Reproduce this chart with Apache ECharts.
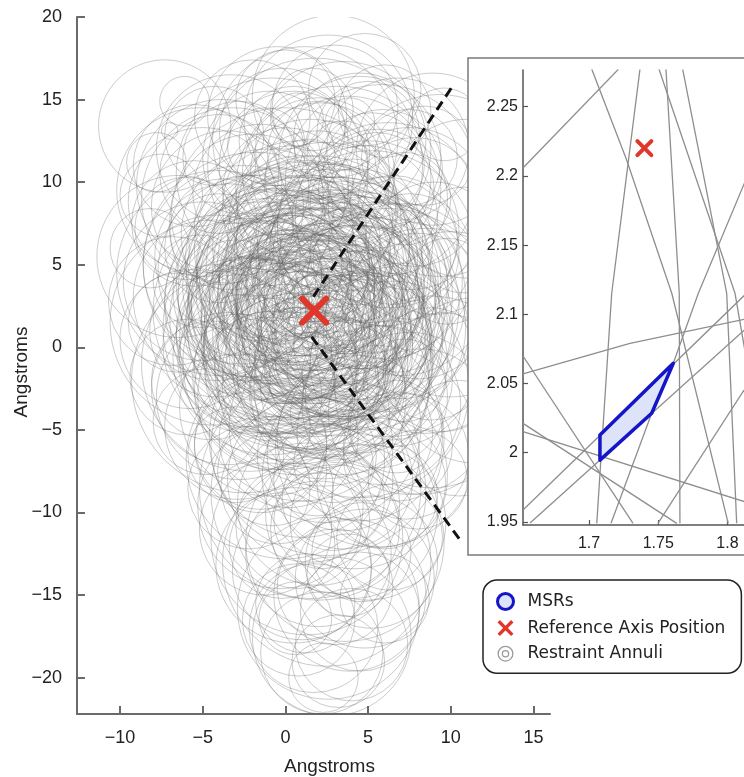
<!DOCTYPE html>
<html>
<head>
<meta charset="utf-8">
<script src="https://cdn.jsdelivr.net/npm/echarts@6/dist/echarts.min.js"></script>
<style>html,body{margin:0;padding:0;background:#fff}#c{width:744px;height:777px}</style>
</head>
<body>
<div id="c"></div>
<script>
// ---------- data ----------
const xTicks = [-10, -5, 0, 5, 10, 15];
const yTicks = [-20, -15, -10, -5, 0, 5, 10, 15, 20];
const insetXTicks = [1.7, 1.75, 1.8];
const insetYTicks = [1.95, 2, 2.05, 2.1, 2.15, 2.2, 2.25];

const refPos = [1.74, 2.22];                 // Reference Axis Position
const msrX = [1.7079, 1.7609, 1.7453, 1.7079]; // MSR polygon
const msrY = [2.0128, 2.0646, 2.0285, 1.9947];

const axisRayUpper = [[1.69, 3.06], [10.15, 15.88]];
const axisRayLower = [[1.59, 0.64], [10.56, -11.66]];

// restraint annuli [centre x, centre y, radius] (Angstroms)
const annuliCore = [
 [1.2,2.5,4.2],[0.4,3.1,5.0],[2.3,1.6,3.8],[-0.5,1.8,4.6],[1.8,3.9,5.3],[3.1,2.2,4.4],[0.9,0.7,3.9],[-1.2,3.4,5.6],[2.6,0.4,5.1],[1.5,4.8,3.6],
 [-0.2,0.2,4.9],[3.4,3.6,5.7],[0.6,2.0,2.9],[2.0,2.9,6.1],[-1.8,1.1,4.3],[4.0,1.0,4.8],[1.1,-0.8,5.4],[0.0,4.4,4.0],[2.9,4.6,4.5],[-0.9,-0.6,5.9],
 [1.7,1.2,2.6],[3.8,2.9,3.3],[0.3,-1.4,4.1],[-1.5,2.6,3.1],[2.4,-1.1,3.7],[1.0,3.6,3.0],[4.6,3.9,5.2],[-0.7,4.9,4.7],[2.2,5.3,5.8],[0.8,1.3,5.6],
 [3.3,-0.2,4.0],[-2.1,0.1,5.3],[1.4,-0.1,6.3],[2.7,2.6,2.8],[0.1,2.7,3.4],[4.3,-0.9,5.5],[-0.4,-0.2,3.2],[1.9,0.3,4.5],[3.6,1.7,6.0],[0.5,4.0,6.4],
 [-1.1,1.9,2.7],[2.5,3.4,4.1],[1.3,1.9,5.0],[3.0,5.4,3.4],[-1.6,4.2,3.8],[0.7,-0.5,2.9],[4.8,2.3,3.6],[2.1,-1.7,5.0],[-0.3,3.3,6.2],[1.6,2.2,3.3],
 [3.9,4.4,4.0],[0.2,1.0,4.4],[2.8,1.4,5.5],[-2.4,2.9,4.9],[1.0,4.3,4.8],[3.2,-1.3,3.1],[-0.8,0.9,5.1],[2.0,0.9,3.5],[4.4,1.6,2.9],[0.9,2.8,3.9],
 [1.5,-1.0,3.4],[3.5,3.1,4.8],[-1.3,-1.2,4.2],[2.3,4.1,2.7],[0.0,2.3,5.7],[2.9,-0.6,6.0],[1.1,5.1,5.2],[-0.6,3.9,3.0],[3.7,0.4,3.7],[1.8,1.8,4.7]
];
const annuliCoreB = [
 [0.8,1.6,6.8],[2.6,2.0,6.5],[-0.3,2.6,7.0],[1.9,-0.4,6.9],[3.0,3.2,7.1],[0.2,0.5,6.6],[1.5,3.5,6.9],[2.2,1.1,7.3],[-1.0,1.2,6.4],[3.8,2.5,6.7],
 [1.2,4.1,7.2],[0.6,-0.9,6.8],[2.8,-0.3,6.2],[-0.6,3.8,6.0],[4.2,1.5,5.9],[1.7,2.7,7.4],[0.4,3.3,3.6],[2.4,2.3,2.3],[1.3,0.2,3.0],[3.3,1.0,3.9],
 [-0.1,1.4,3.7],[2.1,3.7,3.8],[0.9,3.0,2.2],[1.9,-0.9,2.5],[3.6,2.0,2.4],[-0.5,2.9,2.6],[2.6,4.9,2.8],[0.4,4.9,3.1],[1.6,0.8,6.0],[3.1,4.0,6.3],
 [-1.4,2.2,6.6],[2.3,-2.0,6.4],[0.0,-1.8,5.6],[4.5,3.0,6.4],[-1.9,4.6,5.8],[1.1,6.1,5.5],[3.4,-2.4,5.3],[-0.7,-2.6,4.8],[2.9,6.2,4.6],[5.0,0.2,4.5],
 [-2.5,-0.8,4.0],[0.6,5.8,3.7],[4.1,5.0,3.5],[1.4,-2.7,3.6],[-1.9,3.1,2.5],[3.6,-1.6,2.6],[2.0,6.5,2.9],[5.3,2.8,3.1],[-0.9,5.5,2.4],[1.0,-2.0,2.0],
 [2.7,3.0,5.4],[0.3,1.9,5.2],[1.8,1.3,6.7],[1.0,2.4,6.1],[2.4,0.1,4.3],[0.1,3.9,5.3],[3.5,0.8,5.1],[-0.2,-0.6,6.2],[2.2,4.6,6.6],[1.4,3.0,4.4]
];
const annuliCoreC = [
 [1.05,1.12,4.05],[2.17,2.04,5.12],[0.48,3.61,4.52],[3.02,0.47,5.83],[-0.56,0.79,6.04],[2.53,4.08,5.47],[1.46,-1.52,4.61],[4.07,2.11,5.26],[-1.03,2.84,4.83],[1.81,5.52,3.97],
 [0.66,2.31,6.58],[2.91,1.73,3.06],[-0.18,3.02,2.84],[3.73,3.43,6.12],[1.29,0.48,5.37],[0.34,4.63,5.69],[2.44,-0.82,4.28],[-1.47,0.32,3.48],[3.27,5.01,5.04],[0.93,-2.31,4.74],
 [4.86,0.68,3.87],[-0.92,-1.74,3.92],[1.72,3.28,2.41],[2.68,6.04,3.66],[-1.77,3.66,4.44],[5.12,3.77,4.13],[0.12,-0.36,5.08],[3.84,-0.31,4.67],[1.38,6.42,4.35],[-0.48,5.24,5.57],
 [2.86,-2.47,4.36],[4.41,5.31,2.74],[-2.22,1.83,3.63],[0.74,0.04,2.37],[3.52,2.36,2.62],[1.94,4.86,6.73],[-0.08,1.69,6.91],[2.31,-1.38,6.57],[4.72,1.19,6.18],[0.87,3.94,3.24]
];
const annuliMid = [
 [-3.5,5.5,4.4],[-2.8,-3.0,5.0],[6.0,4.0,4.7],[5.5,-3.0,4.3],[1.5,8.5,5.3],[1.0,-6.0,5.5],[-4.2,1.0,4.0],[7.0,1.0,4.1],[-2.0,8.0,4.9],[4.8,7.8,4.4],
 [-1.5,-6.0,4.0],[4.5,-5.5,5.0],[-3.0,3.0,3.5],[6.5,-2.0,3.6],[0.0,9.5,3.8],[3.5,-8.0,4.2],[-4.5,-2.0,3.6],[7.5,5.5,3.8],[2.0,10.5,4.6],[2.0,-9.5,4.9],
 [-3.8,7.0,3.2],[5.5,9.5,3.5],[-0.5,-8.5,3.4],[6.8,-6.0,3.3],[-5.0,4.0,4.8],[8.0,2.5,4.4],[-1.0,11.5,4.0],[4.5,11.5,4.9],[-2.2,-8.5,3.7],[6.0,-9.0,3.2],
 [-5.5,7.5,3.8],[0.5,12.5,3.3],[3.0,-11.0,3.9],[-3.0,-6.5,2.9],[7.2,9.0,2.8],[-4.0,10.5,3.6],[5.0,13.0,3.1],[1.0,-13.5,4.2],[-6.5,1.5,3.0],[8.8,-1.0,3.4],
 [-3.2,9.0,5.5],[3.5,12.0,5.3],[-1.8,5.0,6.8],[5.2,5.5,6.4],[-2.5,-2.0,6.8],[4.5,-2.5,6.6],[0.0,7.5,7.0],[2.5,-5.5,7.1],[-4.0,4.5,6.2],[6.2,1.5,6.9],
 [1.8,11.0,6.5],[1.5,-8.5,6.7],[-5.2,9.5,5.0],[7.5,-4.0,4.9],[-0.5,14.0,4.2],[3.0,14.5,3.8],[-1.2,-11.0,4.0],[4.8,-14.0,4.2],[0.8,-16.5,3.4],[2.2,-18.5,3.7]
];
const annuliUpper = [
 [2.9,15.2,4.9],[0.5,11.0,4.5],[3.8,10.2,5.0],[-1.5,9.4,4.1],[1.9,8.3,4.8],[5.6,9.0,4.2],[-0.2,13.1,3.8],[4.5,12.6,4.0],[2.0,11.8,3.1],[-2.8,11.5,3.4],
 [6.8,12.0,4.3],[0.9,7.2,4.0],[3.0,7.6,3.5],[-1.1,6.8,5.2],[5.0,7.0,5.5],[1.4,9.9,2.7],[2.6,13.8,5.1],[-3.5,8.5,4.6],[7.5,8.4,4.9],[0.0,15.0,3.0],
 [4.1,8.8,2.6],[1.2,12.6,5.6],[-0.8,10.5,5.8],[6.0,14.3,2.8],[2.4,6.5,5.9],[3.5,11.5,2.2],[-2.0,13.9,3.5],[5.2,11.0,3.2],[0.3,8.9,3.3],[8.4,11.6,3.0],
 [1.6,14.4,2.5],[4.8,15.6,3.4],[-4.3,12.8,3.0],[3.2,9.6,6.2],[-0.5,8.0,2.9],[6.5,6.5,3.9],[2.1,10.6,4.2],[0.7,13.8,1.6],[3.9,13.6,1.5],[-2.5,7.4,3.0],
 [5.8,10.1,5.8],[1.0,6.0,6.5],[4.3,6.2,4.6],[-1.2,12.2,2.3],[2.7,12.3,1.4]
];
const annuliLeft = [
 [-7.3,13.4,4.0],[-6.1,14.9,1.5],[-7.0,13.1,0.5],[-6.5,5.5,4.9],[-5.0,8.8,4.5],[-7.5,9.2,2.5],[-4.2,3.0,5.0],[-5.8,0.5,4.2],[-3.5,-2.5,4.6],[-6.8,2.8,3.9],
 [-4.0,6.0,3.3],[-5.5,11.0,3.7],[-3.0,0.8,3.6],[-4.8,-4.5,3.2],[-2.6,5.0,6.0],[-5.2,4.0,2.8],[-3.8,9.8,5.2],[-6.0,7.2,3.1],[-2.9,-4.8,4.4],[-4.4,1.5,6.2],
 [-8.2,6.0,2.4],[-3.3,12.0,4.5],[-5.9,-1.8,3.5],[-2.2,-1.0,6.5],[-7.8,11.2,1.8]
];
const annuliLower = [
 [2.8,-17.5,4.8],[1.5,-8.0,5.0],[3.5,-6.5,4.6],[0.2,-5.5,4.2],[4.0,-10.0,5.2],[2.0,-12.5,4.4],[5.2,-13.0,4.0],[0.8,-10.8,3.8],[3.0,-14.5,3.5],[-0.8,-7.5,3.3],
 [5.8,-8.2,3.9],[2.4,-4.8,5.8],[1.2,-15.5,3.0],[4.5,-16.0,3.6],[3.6,-11.8,6.0],[-1.0,-3.6,5.4],[2.9,-9.2,3.1],[6.3,-11.5,3.2],[0.5,-13.2,4.7],[3.2,-19.0,2.8],
 [4.8,-5.2,4.1],[1.9,-6.6,3.6],[-0.3,-9.6,5.0],[2.6,-15.8,5.5],[5.0,-10.6,4.7],[1.0,-3.0,6.3],[3.8,-13.8,2.5],[2.2,-10.5,2.9],[0.0,-6.8,6.0],[4.2,-7.8,5.6],
 [1.7,-17.0,3.9],[6.0,-15.2,2.7],[3.3,-4.0,3.0],[2.5,-13.0,6.3],[-1.5,-5.8,4.0],[4.0,-18.0,3.4],[1.3,-11.6,5.8],[5.5,-6.0,6.1],[2.0,-8.8,6.5],[3.9,-15.0,4.6],
 [0.6,-16.4,2.2],[2.9,-7.0,2.4],[-0.2,-12.0,3.2],[4.6,-12.4,3.0],[2.3,-20.0,2.1]
];
const annuliRight = [
 [8.9,12.0,4.6],[7.0,3.5,5.2],[9.0,6.0,4.0],[6.5,-1.0,5.0],[8.2,-4.5,4.4],[10.0,2.0,5.0],[7.8,8.8,3.9],[6.0,5.8,4.5],[9.5,-1.5,3.6],[7.3,-6.6,3.8],
 [11.0,9.0,4.8],[6.8,1.5,3.0],[8.5,1.0,6.2],[5.8,-3.5,4.8],[10.5,-5.5,3.5],[7.5,11.5,2.9],[9.8,4.0,2.6],[6.2,8.0,5.6],[8.0,-8.0,3.0],[11.5,-2.0,5.0],
 [5.5,2.5,6.3],[7.6,5.2,2.4],[9.3,9.8,5.5],[6.7,-4.8,2.8],[8.8,-2.7,5.8],[10.8,6.5,3.2],[5.9,10.8,3.6],[7.2,-2.0,2.5],[9.6,13.5,2.2],[6.0,0.3,4.2]
];

// annulus boundaries as seen inside the zoomed inset (near-straight arcs)
const insetArcs = [
 [[1.6521,2.2055],[1.7212,2.2770]],
 [[1.7020,2.2770],[1.7272,2.2115],[1.7598,2.1152],[1.8006,1.9490]],
 [[1.7368,2.2770],[1.7164,2.1152],[1.7056,1.9490]],
 [[1.7556,2.2770],[1.7652,2.1152],[1.7657,1.9490]],
 [[1.7506,2.2770],[1.8055,2.1152],[1.8163,2.0525]],
 [[1.7677,2.2770],[1.7995,2.1152],[1.8067,1.9490]],
 [[1.6523,2.0569],[1.7296,2.0790],[1.8163,2.0973]],
 [[1.6523,1.9586],[1.8163,2.1176]],
 [[1.8163,2.2043],[1.7790,2.1152],[1.7609,2.0646],[1.7453,2.0285],[1.7159,1.9490]],
 [[1.6574,1.9492],[1.8163,2.0923]],
 [[1.6523,2.0699],[1.7318,1.9490]],
 [[1.6523,2.0152],[1.8163,1.9634]],
 [[1.6523,2.0212],[1.7634,1.9490]],
 [[1.8120,2.0453],[1.7498,1.9490]]
];

// ---------- chart ----------
const AXIS_FONT = 'Liberation Sans, Arial, Helvetica, sans-serif';
const RED = '#e0372a';
const minus = v => String(v).replace('-', '\u2212');
const annuli = [].concat(annuliCore, annuliCoreB, annuliCoreC, annuliMid, annuliUpper, annuliLeft, annuliLower, annuliRight);

function crossItem(half, width) {
  return function (params, api) {
    const c = api.coord([api.value(0), api.value(1)]);
    const st = { stroke: RED, lineWidth: width, lineCap: 'round' };
    return { type: 'group', children: [
      { type: 'line', shape: { x1: c[0] - half, y1: c[1] - half, x2: c[0] + half, y2: c[1] + half }, style: st },
      { type: 'line', shape: { x1: c[0] - half, y1: c[1] + half, x2: c[0] + half, y2: c[1] - half }, style: st }
    ]};
  };
}

const chart = echarts.init(document.getElementById('c'), null, { renderer: 'canvas' });

const series = [
  {
    type: 'custom', name: 'Restraint Annuli', xAxisIndex: 0, yAxisIndex: 0,
    clip: true, silent: true, z: 2, data: annuli, encode: { x: 0, y: 1 },
    itemStyle: { color: '#aaa' },
    renderItem(params, api) {
      const c = api.coord([api.value(0), api.value(1)]);
      const r = api.size([api.value(2), 0])[0];
      return { type: 'circle', shape: { cx: c[0], cy: c[1], r: r },
        style: { fill: 'none', stroke: 'rgba(95,95,95,0.32)', lineWidth: 1 } };
    }
  },
  { type: 'line', xAxisIndex: 0, yAxisIndex: 0, data: axisRayUpper, showSymbol: false, silent: true, z: 4,
    lineStyle: { color: '#111', width: 3, type: [10, 6] } },
  { type: 'line', xAxisIndex: 0, yAxisIndex: 0, data: axisRayLower, showSymbol: false, silent: true, z: 4,
    lineStyle: { color: '#111', width: 3, type: [10, 6] } },
  { type: 'custom', name: 'Reference Axis Position', xAxisIndex: 0, yAxisIndex: 0, z: 5, silent: true,
    data: [refPos], encode: { x: 0, y: 1 }, itemStyle: { color: RED }, renderItem: crossItem(12, 6) }
];

insetArcs.forEach(arc => series.push({
  type: 'line', xAxisIndex: 1, yAxisIndex: 1, data: arc, showSymbol: false, silent: true, z: 10,
  clip: true, lineStyle: { color: '#8e8e8e', width: 1.3 }
}));

series.push({
  type: 'custom', name: 'MSRs', xAxisIndex: 1, yAxisIndex: 1, z: 12, silent: true, clip: true,
  data: [[msrX[0], msrY[0]]], encode: { x: 0, y: 1 },
  itemStyle: { color: '#dde3f8' },
  renderItem(params, api) {
    const pts = msrX.map((x, i) => api.coord([x, msrY[i]]));
    return { type: 'polygon', shape: { points: pts },
      style: { fill: '#dde3f8', stroke: '#1414c8', lineWidth: 3.5, lineJoin: 'round' } };
  }
});
series.push({ type: 'custom', name: 'Reference Axis Position', xAxisIndex: 1, yAxisIndex: 1, z: 12, silent: true,
  data: [refPos], encode: { x: 0, y: 1 }, itemStyle: { color: RED }, renderItem: crossItem(7, 4) });

const mainAxisCommon = {
  type: 'value',
  axisLine: { show: true, onZero: false, lineStyle: { color: '#6a6a6a', width: 2 } },
  axisTick: { show: true, inside: true, length: 8, lineStyle: { color: '#6a6a6a', width: 2 } },
  splitLine: { show: false },
  nameLocation: 'middle'
};
const insetAxisCommon = {
  type: 'value', z: 10,
  axisLine: { show: true, onZero: false, lineStyle: { color: '#555', width: 1.5 } },
  axisTick: { show: true, inside: true, length: 5, lineStyle: { color: '#555', width: 1.2 } },
  splitLine: { show: false }
};

chart.setOption({
  animation: false,
  backgroundColor: '#fff',
  grid: [
    { left: 77, top: 17, width: 473, height: 697, outerBoundsMode: 'none', containLabel: false },
    { left: 523, top: 70, width: 273.6, height: 455, outerBoundsMode: 'none', containLabel: false }
  ],
  xAxis: [
    Object.assign({}, mainAxisCommon, {
      gridIndex: 0, min: -12.6, max: 16,
      axisTick: Object.assign({}, mainAxisCommon.axisTick, { customValues: xTicks }),
      axisLabel: { customValues: xTicks, formatter: minus, margin: 15, fontSize: 18, color: '#222', fontFamily: AXIS_FONT },
      name: 'Angstroms', nameGap: 43,
      nameTextStyle: { fontSize: 19, color: '#222', fontFamily: AXIS_FONT, padding: [0, 0, 0, 32] }
    }),
    Object.assign({}, insetAxisCommon, {
      gridIndex: 1, min: 1.6523, max: 1.85,
      axisTick: Object.assign({}, insetAxisCommon.axisTick, { customValues: insetXTicks }),
      axisLabel: { customValues: insetXTicks, formatter: v => String(+(+v).toFixed(2)), margin: 11,
        fontSize: 16, color: '#222', fontFamily: AXIS_FONT }
    })
  ],
  yAxis: [
    Object.assign({}, mainAxisCommon, {
      gridIndex: 0, min: -22.2, max: 20,
      axisTick: Object.assign({}, mainAxisCommon.axisTick, { customValues: yTicks }),
      axisLabel: { customValues: yTicks, formatter: minus, margin: 15, fontSize: 18, color: '#222', fontFamily: AXIS_FONT },
      name: 'Angstroms', nameGap: 46, nameMoveOverlap: false,
      nameTextStyle: { fontSize: 19, color: '#222', fontFamily: AXIS_FONT, padding: [0, 13, 0, 0] }
    }),
    Object.assign({}, insetAxisCommon, {
      gridIndex: 1, min: 1.9478, max: 2.2765,
      axisTick: Object.assign({}, insetAxisCommon.axisTick, { customValues: insetYTicks }),
      axisLabel: { customValues: insetYTicks, formatter: v => String(+(+v).toFixed(2)), margin: 5,
        fontSize: 16, color: '#222', fontFamily: AXIS_FONT }
    })
  ],
  graphic: { elements: [
    { type: 'rect', z: 6, silent: true,
      shape: { x: 468, y: 58, width: 320, height: 497 },
      style: { fill: '#fff', stroke: '#7a7a7a', lineWidth: 1.5 } }
  ]},
  legend: {
    left: 483, top: 580, orient: 'vertical', selectedMode: false,
    borderColor: '#222', borderWidth: 1.5, borderRadius: 14,
    padding: [12, 16, 11, 13],
    itemWidth: 20, itemHeight: 16, itemGap: 8.6,
    textStyle: { fontFamily: 'DejaVu Sans', fontSize: 17, color: '#222', lineHeight: 16, padding: [0, 0, 0, 7] },
    data: [
      { name: 'MSRs', icon: 'circle',
        itemStyle: { color: '#dde3f8', borderColor: '#1414c8', borderWidth: 3 } },
      { name: 'Reference Axis Position',
        icon: 'path://M3,0L10,7L17,0L20,3L13,10L20,17L17,20L10,13L3,20L0,17L7,10L0,3Z',
        itemStyle: { color: RED, borderWidth: 0 } },
      { name: 'Restraint Annuli',
        icon: 'path://M0.5,10A9.5,9.5,0,1,1,19.5,10A9.5,9.5,0,1,1,0.5,10ZM2,10A8,8,0,1,0,18,10A8,8,0,1,0,2,10ZM5.5,10A4.5,4.5,0,1,1,14.5,10A4.5,4.5,0,1,1,5.5,10ZM7,10A3,3,0,1,0,13,10A3,3,0,1,0,7,10Z',
        itemStyle: { color: '#9a9a9a', borderWidth: 0 } }
    ]
  },
  series: series
});
</script>
</body>
</html>
